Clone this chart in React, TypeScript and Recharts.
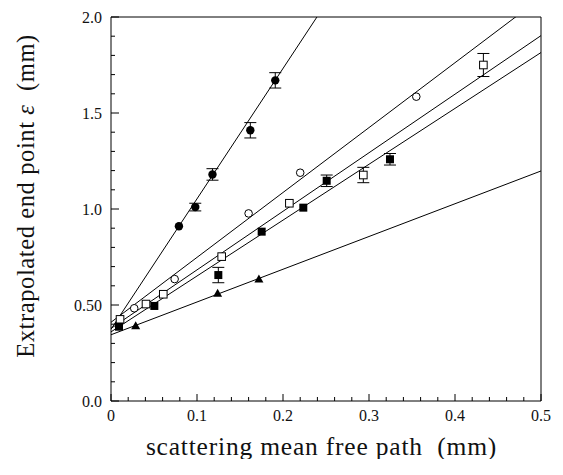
import React from "react";
import { ComposedChart, Scatter, Line, XAxis, YAxis, ErrorBar } from "recharts";

// filled circles
const fcX = [0.079, 0.098, 0.118, 0.162, 0.191];
const fcY = [0.91, 1.01, 1.18, 1.41, 1.67];
const fcErr = [0, 0.02, 0.03, 0.04, 0.04];

// open circles
const ocX = [0.027, 0.074, 0.16, 0.22, 0.355];
const ocY = [0.483, 0.635, 0.977, 1.189, 1.585];

// open squares
const osX = [0.0105, 0.0407, 0.0608, 0.1287, 0.2074, 0.2934, 0.433];
const osY = [0.425, 0.505, 0.556, 0.752, 1.03, 1.177, 1.75];
const osErr = [0, 0, 0, 0, 0, 0.04, 0.06];

// filled squares
const fsX = [0.0093, 0.0504, 0.1248, 0.1752, 0.2236, 0.2508, 0.3244];
const fsY = [0.387, 0.495, 0.656, 0.882, 1.007, 1.147, 1.259];
const fsErr = [0, 0, 0.04, 0, 0, 0.03, 0.03];

// triangles
const trX = [0.0287, 0.124, 0.172];
const trY = [0.392, 0.561, 0.635];

// linear fits (circles, open circles, open squares, filled squares, triangles)
const fitSlopes = [6.79, 3.38, 3.05, 2.91, 1.706];
const fitIntercepts = [0.374, 0.41, 0.378, 0.36, 0.345];

const xMajor = [0, 0.1, 0.2, 0.3, 0.4, 0.5];
const xLabels = ["0", "0.1", "0.2", "0.3", "0.4", "0.5"];
const yMajor = [0, 0.5, 1, 1.5, 2];
const yLabels = ["0.0", "0.50", "1.0", "1.5", "2.0"];
const xTicks = Array.from({ length: 26 }, (_, i) => +(i * 0.02).toFixed(2));
const yTicks = Array.from({ length: 21 }, (_, i) => +(i * 0.1).toFixed(1));

const xTitleText = "scattering mean free path  (mm)";
const yTitleText = ["Extrapolated end point ", "ε", "  (mm)"];

const FONT = "'Liberation Serif', 'Times New Roman', serif";
const W = 555;
const H = 467;

const zip = (xs: number[], ys: number[], es?: number[]) =>
  xs.map((x, i) => ({ x, y: ys[i], err: es ? es[i] : 0 }));

const fitData = (i: number) =>
  [0, 0.5].map((x) => ({ x, y: fitIntercepts[i] + fitSlopes[i] * x }));

const labelFor = (v: number, majors: number[], labels: string[]) => {
  const i = majors.findIndex((m) => Math.abs(m - v) < 1e-6);
  return i >= 0 ? labels[i] : null;
};

// inward tick marks, longer at labelled values
const makeTick = (side: "bottom" | "top" | "left" | "right") => (props: any) => {
  const x = Number(props.x);
  const y = Number(props.y);
  const v = Number(props.payload.value);
  if (side === "bottom" || side === "top") {
    const lab = labelFor(v, xMajor, xLabels);
    const len = lab !== null ? 7 : 4;
    const dir = side === "bottom" ? -1 : 1;
    return (
      <g>
        <line x1={x} x2={x} y1={y} y2={y + dir * len} stroke="#000" strokeWidth={1} />
        {side === "bottom" && lab !== null && (
          <text x={x} y={y + 20} textAnchor="middle" fontFamily={FONT} fontSize={16} fill="#111">
            {lab}
          </text>
        )}
      </g>
    );
  }
  const lab = labelFor(v, yMajor, yLabels);
  const len = lab !== null ? 8 : 4;
  const dir = side === "left" ? 1 : -1;
  return (
    <g>
      <line x1={x} x2={x + dir * len} y1={y} y2={y} stroke="#000" strokeWidth={1} />
      {side === "left" && lab !== null && (
        <text x={x - 9} y={y} dy="0.35em" textAnchor="end" fontFamily={FONT} fontSize={16} fill="#111">
          {lab}
        </text>
      )}
    </g>
  );
};

const shape = (kind: string) => (props: any) => {
  const { cx, cy } = props;
  if (kind === "fc") return <circle cx={cx} cy={cy} r={4.2} fill="#000" />;
  if (kind === "oc") return <circle cx={cx} cy={cy} r={3.8} fill="#fff" stroke="#000" strokeWidth={1} />;
  if (kind === "fs") return <rect x={cx - 4} y={cy - 4} width={8} height={8} fill="#000" />;
  if (kind === "os")
    return <rect x={cx - 3.8} y={cy - 3.8} width={7.6} height={7.6} fill="#fff" stroke="#000" strokeWidth={1} />;
  return <path d={`M${cx},${cy - 4.5}L${cx + 4.5},${cy + 3.5}L${cx - 4.5},${cy + 3.5}Z`} fill="#000" />;
};

export default function App() {
  return (
    <div style={{ position: "relative", width: W, height: H, marginBottom: -16 }}>
      <ComposedChart width={W} height={H} margin={{ top: 8, right: 21, bottom: 0, left: 0 }}>
        <XAxis
          xAxisId={0}
          type="number"
          dataKey="x"
          domain={[0, 0.5]}
          ticks={xTicks}
          interval={0}
          allowDataOverflow
          height={74}
          tickSize={0}
          tickMargin={0}
          tickLine={false}
          axisLine={{ stroke: "#000" }}
          tick={makeTick("bottom")}
        />
        <XAxis
          xAxisId="top"
          orientation="top"
          type="number"
          dataKey="x"
          domain={[0, 0.5]}
          ticks={xTicks}
          interval={0}
          height={1}
          tickSize={0}
          tickMargin={0}
          tickLine={false}
          axisLine={{ stroke: "#000" }}
          tick={makeTick("top")}
        />
        <YAxis
          yAxisId={0}
          type="number"
          domain={[0, 2]}
          ticks={yTicks}
          interval={0}
          allowDataOverflow
          width={103}
          tickSize={0}
          tickMargin={0}
          tickLine={false}
          axisLine={{ stroke: "#000" }}
          tick={makeTick("left")}
        />
        <YAxis
          yAxisId="right"
          orientation="right"
          type="number"
          domain={[0, 2]}
          ticks={yTicks}
          interval={0}
          width={1}
          tickSize={0}
          tickMargin={0}
          tickLine={false}
          axisLine={{ stroke: "#000" }}
          tick={makeTick("right")}
        />
        {fitSlopes.map((_, i) => (
          <Line
            key={`fit-${i}`}
            data={fitData(i)}
            dataKey="y"
            stroke="#000"
            strokeWidth={1}
            dot={false}
            activeDot={false}
            isAnimationActive={false}
          />
        ))}
        <Scatter data={zip(fcX, fcY, fcErr)} dataKey="y" shape={shape("fc")} isAnimationActive={false}>
          <ErrorBar dataKey="err" direction="y" width={6} stroke="#000" strokeWidth={1} isAnimationActive={false} />
        </Scatter>
        <Scatter data={zip(ocX, ocY)} dataKey="y" shape={shape("oc")} isAnimationActive={false} />
        <Scatter data={zip(osX, osY, osErr)} dataKey="y" shape={shape("os")} isAnimationActive={false}>
          <ErrorBar dataKey="err" direction="y" width={6} stroke="#000" strokeWidth={1} isAnimationActive={false} />
        </Scatter>
        <Scatter data={zip(fsX, fsY, fsErr)} dataKey="y" shape={shape("fs")} isAnimationActive={false}>
          <ErrorBar dataKey="err" direction="y" width={6} stroke="#000" strokeWidth={1} isAnimationActive={false} />
        </Scatter>
        <Scatter data={zip(trX, trY)} dataKey="y" shape={shape("tr")} isAnimationActive={false} />
      </ComposedChart>
      {/* axis titles */}
      <svg
        width={W}
        height={H}
        style={{ position: "absolute", left: 0, top: 0, pointerEvents: "none", overflow: "visible" }}
      >
        <text
          x={313.5}
          y={447}
          textAnchor="middle"
          fontFamily={FONT}
          fontSize={25.5}
          letterSpacing={0.8}
          fill="#111"
          style={{ whiteSpace: "pre" }}
        >
          {xTitleText}
        </text>
        <text
          transform="translate(17,188) rotate(-90)"
          textAnchor="middle"
          dy="0.35em"
          fontFamily={FONT}
          fontSize={24.5}
          letterSpacing={0.6}
          fill="#111"
          style={{ whiteSpace: "pre" }}
        >
          {yTitleText[0]}
          <tspan fontStyle="italic">{yTitleText[1]}</tspan>
          {yTitleText[2]}
        </text>
      </svg>
    </div>
  );
}
